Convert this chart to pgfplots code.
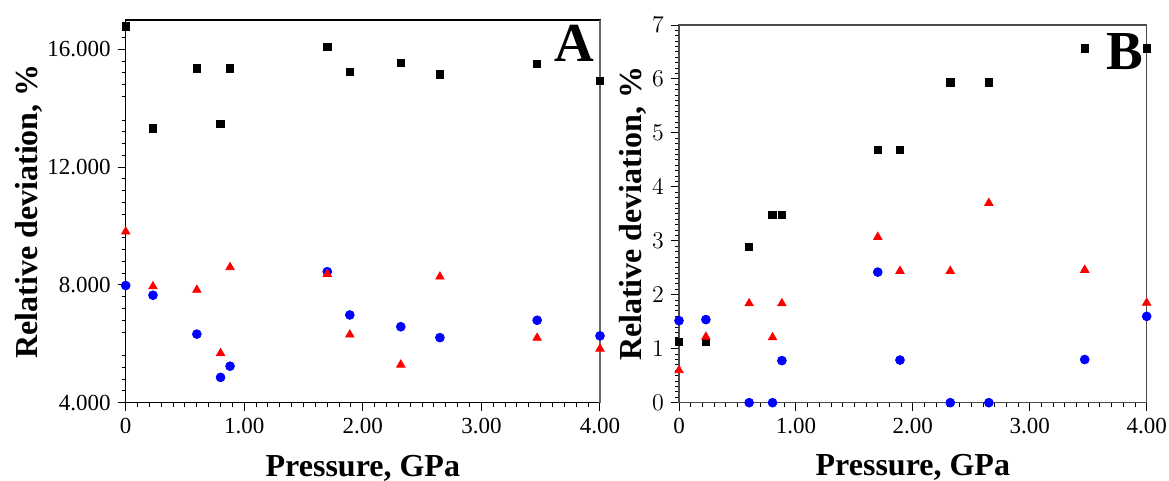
\documentclass[border=0pt]{standalone}
\usepackage{pgfplots}
\pgfplotsset{compat=1.18}
\usepackage{pgfplotstable}
\usepackage{fontspec}
\setmainfont{Liberation Serif}

\pgfplotstableread{
x sq tri cir
0.00 16.78 9.81 7.98
0.23 13.32 7.95 7.65
0.60 15.36 7.83 6.33
0.80 13.47 5.68 4.86
0.88 15.36 8.60 5.24
1.70 16.09 8.37 8.45
1.89 15.23 6.31 6.98
2.32 15.54 5.29 6.58
2.65 15.15 8.28 6.21
3.47 15.50 6.20 6.80
4.00 14.93 5.83 6.27
}\dataA

\pgfplotstableread{
x sq tri cir
0.00 1.13 0.60 1.52
0.23 1.13 1.22 1.54
0.60 2.89 1.84 0
0.80 3.48 1.21 0
0.88 3.48 1.84 0.78
1.70 4.69 3.07 2.42
1.89 4.69 2.44 0.79
2.32 5.94 2.44 0
2.65 5.94 3.70 0
3.47 6.57 2.46 0.80
4.00 6.57 1.85 1.60
}\dataB

\pgfplotsset{
  myax/.style={
    scale only axis, clip=false, anchor=south west,
    xmin=0, xmax=4,
    xtick={0,1,2,3,4}, xticklabels={0,1.00,2.00,3.00,4.00},
    minor x tick num=9,
    tick align=outside, xtick pos=bottom, ytick pos=left,
    major tick length=4pt, minor tick length=2pt,
    tick style={black, line width=0.5pt},
    ticklabel style={font=\fontsize{11.5}{13}\selectfont},
    label style={font=\bfseries\fontsize{16}{19}\selectfont},
    xlabel={Pressure, GPa},
    ylabel={Relative deviation, \%},
    xlabel style={at={(axis description cs:0.5,-0.194)}, anchor=base},
    axis line style={line width=0.6pt},
  },
  sqm/.style={only marks, mark=square*, mark size=1.85pt, black, mark options={draw=black, fill=black}},
  cim/.style={only marks, mark=*, mark size=2.2pt, blue, mark options={draw=blue, fill=blue}},
  trm/.style={only marks, mark=triangle*, mark size=2.4pt, red, mark options={draw=red, fill=red}},
}

\begin{document}
\begin{tikzpicture}
\useasboundingbox (0,0) rectangle (584.5pt,240.5pt);

\begin{axis}[myax,
  at={(62.85pt,39.15pt)},
  width=237.15pt, height=191.35pt,
  ymin=4, ymax=17,
  ytick={4,8,12,16}, yticklabels={4.000,8.000,12.000,16.000},
  minor ytick={4.4,4.8,5.2,5.6,6.4,6.8,7.2,7.6,8.4,8.8,9.2,9.6,10.4,10.8,11.2,11.6,12.4,12.8,13.2,13.6,14.4,14.8,15.2,15.6,16.4,16.8},
  ylabel style={at={(axis description cs:-0.185,0.5)}, anchor=base},
  axis line style={black},
]
\addplot[sqm] table[x=x, y=sq] {\dataA};
\addplot[cim] table[x=x, y=cir] {\dataA};
\addplot[trm] table[x=x, y=tri] {\dataA};
\draw[black!60, line width=0.6pt] (axis description cs:1,0) -- (axis description cs:1,1);
\node[font=\bfseries\fontsize{27.5}{30}\selectfont, inner sep=0pt] at (axis description cs:0.947,0.9386) {A};
\end{axis}

\begin{axis}[myax,
  at={(339.5pt,39.15pt)},
  width=233.85pt, height=188.85pt,
  ymin=0, ymax=7,
  ytick={0,1,2,3,4,5,6,7},
  minor y tick num=9,
  ylabel style={at={(axis description cs:-0.081,0.5)}, anchor=base},
  axis line style={black!70},
]
\addplot[sqm] table[x=x, y=sq] {\dataB};
\addplot[cim] table[x=x, y=cir] {\dataB};
\addplot[trm] table[x=x, y=tri] {\dataB};
\node[font=\bfseries\fontsize{27.5}{30}\selectfont, inner sep=0pt] at (axis description cs:0.953,0.930) {B};
\end{axis}
\end{tikzpicture}
\end{document}
